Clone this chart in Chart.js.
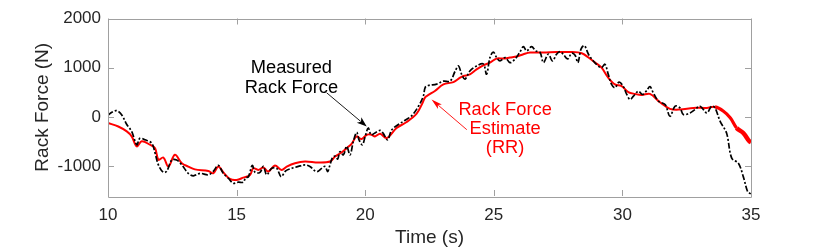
<!DOCTYPE html>
<html>
<head>
<meta charset="utf-8">
<script src="https://cdn.jsdelivr.net/npm/chart.js@4.4.1/dist/chart.umd.min.js"></script>
<style>
  html, body { margin: 0; padding: 0; background: #fff; }
</style>
</head>
<body>
<canvas id="forceChart" width="830" height="249"></canvas>
<script>
// Measured rack force (black dash-dot)
const measuredTime = [
  10.0, 10.15, 10.34, 10.53, 10.73, 10.92, 11.12, 11.24, 11.44, 11.70, 11.83, 11.96,
  12.15, 12.28, 12.48, 12.67, 12.87, 13.12, 13.32, 13.58, 13.90, 14.09, 14.29, 14.48,
  14.68, 14.87, 15.07, 15.26, 15.35, 15.46, 15.61, 15.72, 15.91, 16.04, 16.17, 16.36,
  16.56, 16.73, 16.91, 17.14, 17.40, 17.66, 17.85, 18.11, 18.31, 18.44, 18.54, 18.63,
  18.72, 18.83, 18.93, 19.02, 19.15, 19.28, 19.41, 19.54, 19.67, 19.76, 19.89, 20.0,
  20.12, 20.23, 20.38, 20.58, 20.70, 20.87, 21.03, 21.29, 21.55, 21.81, 22.07, 22.26,
  22.33, 22.45, 22.78, 23.04, 23.30, 23.50, 23.63, 23.75, 23.88, 24.07, 24.33, 24.59,
  24.72, 24.85, 24.98, 25.11, 25.24, 25.44, 25.63, 25.82, 26.02, 26.15, 26.28, 26.47,
  26.63, 26.80, 26.93, 27.12, 27.28, 27.44, 27.57, 27.70, 27.87, 28.03, 28.16, 28.27,
  28.39, 28.52, 28.68, 28.87, 29.06, 29.19, 29.32, 29.45, 29.58, 29.71, 29.87, 30.03,
  30.17, 30.30, 30.43, 30.62, 30.78, 30.95, 31.07, 31.20, 31.40, 31.66, 31.85, 32.05,
  32.24, 32.37, 32.63, 32.82, 33.02, 33.28, 33.47, 33.60, 33.80, 34.05, 34.25, 34.51,
  34.70, 34.87, 34.96, 35.0
];
const measuredForce = [
  40, 100, 130, 50, -150, -290, -560, -430, -460, -530, -730, -970,
  -1120, -1100, -870, -870, -970, -1140, -1190, -1140, -1170, -1100, -980, -1140,
  -1240, -1340, -1320, -1320, -1230, -1210, -980, -1120, -1120, -1000, -1170, -1040,
  -1040, -1210, -1090, -1040, -1000, -970, -1000, -1105, -1040, -1000, -1105, -970,
  -830, -790, -850, -700, -765, -595, -765, -490, -310, -460, -560, -390,
  -220, -360, -320, -270, -330, -460, -260, -150, -65, 30, 220, 425,
  600, 640, 670, 730, 730, 935, 1037, 867, 770, 935, 1037, 1080,
  870, 1208, 1320, 1208, 1139, 1208, 1105, 1173, 1323, 1430, 1343, 1430,
  1343, 1310, 1105, 1276, 1139, 1276, 1330, 1276, 1180, 1296, 1255, 1105,
  1378, 1450, 1276, 1139, 1037, 1003, 1071, 867, 663, 596, 711, 629,
  459, 357, 425, 527, 459, 541, 620, 493, 323, 255, 17, 221,
  187, 51, 85, 153, 221, 85, 221, 187, -85, -323, -833, -935,
  -1207, -1513, -1547, -1560
];

// Rack force estimate RR (red)
const estimateTime = [
  10.0, 10.40, 10.73, 10.92, 11.12, 11.31, 11.63, 11.83, 11.96, 12.15, 12.35, 12.60,
  12.87, 13.12, 13.38, 13.90, 14.09, 14.29, 14.48, 14.74, 15.0, 15.26, 15.52, 15.65,
  15.84, 16.04, 16.23, 16.49, 16.75, 16.95, 17.27, 17.66, 18.18, 18.63, 18.83, 19.08,
  19.28, 19.47, 19.67, 19.86, 20.06, 20.25, 20.38, 20.58, 20.83, 21.22, 21.61, 22.0,
  22.2, 22.33, 22.46, 22.71, 23.04, 23.43, 23.69, 23.82, 24.07, 24.33, 24.59, 24.85,
  25.11, 25.37, 25.63, 25.89, 26.15, 26.41, 26.93, 27.44, 27.96, 28.42, 28.68, 28.94,
  29.19, 29.45, 29.71, 29.97, 30.23, 30.49, 30.75, 31.07, 31.46, 31.85, 32.24, 32.76,
  33.28, 33.60, 33.93, 34.20, 34.44, 34.70, 34.94, 35.0
];
const estimateForce = [
  -120, -190, -290, -390, -595, -490, -560, -630, -867, -820, -1003, -765,
  -935, -1003, -1060, -1091, -1139, -1003, -1119, -1255, -1276, -1228, -1173, -1037,
  -1071, -1024, -1105, -983, -1071, -1003, -935, -901, -922, -901, -799, -718,
  -629, -541, -391, -446, -357, -357, -391, -337, -425, -221, -100, 70,
  255, 400, 450, 530, 663, 711, 799, 833, 867, 969, 1051, 1105,
  1187, 1187, 1208, 1228, 1276, 1310, 1310, 1320, 1320, 1296, 1208, 1105,
  1003, 799, 663, 629, 507, 470, 450, 470, 302, 167, 153, 187,
  187, 207, 119, -17, -221, -323, -493, -510
];

const xTicks = [10, 15, 20, 25, 30, 35];
const yTicks = [-1000, 0, 1000, 2000];

const axisGray = '#a0a0a0';
const textGray = '#262626';
const fontFamily = "'Liberation Sans', Arial, Helvetica, sans-serif";

function toPoints(xs, ys) {
  return xs.map((t, i) => ({ x: t, y: ys[i] }));
}

// box round the axes and MATLAB-style inward tick marks
const boxPlugin = {
  id: 'box',
  afterDatasetsDraw(chart) {
    const { ctx, chartArea: a, scales: { x, y } } = chart;
    const len = 6;
    ctx.save();
    ctx.strokeStyle = axisGray;
    ctx.lineWidth = 1;
    ctx.beginPath();
    ctx.rect(Math.round(a.left) + 0.5, Math.round(a.top) + 0.5,
             Math.round(a.right - a.left), Math.round(a.bottom - a.top));
    xTicks.forEach(v => {
      const px = Math.round(x.getPixelForValue(v)) + 0.5;
      ctx.moveTo(px, a.bottom); ctx.lineTo(px, a.bottom - len);
      ctx.moveTo(px, a.top); ctx.lineTo(px, a.top + len);
    });
    yTicks.forEach(v => {
      const py = Math.round(y.getPixelForValue(v)) + 0.5;
      ctx.moveTo(a.left, py); ctx.lineTo(a.left + len, py);
      ctx.moveTo(a.right, py); ctx.lineTo(a.right - len, py);
    });
    ctx.stroke();
    ctx.restore();
  }
};

function arrow(ctx, x0, y0, x1, y1, color, headLen, headW) {
  const ang = Math.atan2(y1 - y0, x1 - x0);
  ctx.strokeStyle = color;
  ctx.fillStyle = color;
  ctx.lineWidth = 0.9;
  ctx.beginPath();
  ctx.moveTo(x0, y0);
  ctx.lineTo(x1 - Math.cos(ang) * headLen * 0.8, y1 - Math.sin(ang) * headLen * 0.8);
  ctx.stroke();
  ctx.beginPath();
  ctx.moveTo(x1, y1);
  ctx.lineTo(x1 - Math.cos(ang) * headLen + Math.sin(ang) * headW / 2,
             y1 - Math.sin(ang) * headLen - Math.cos(ang) * headW / 2);
  ctx.lineTo(x1 - Math.cos(ang) * headLen * 0.75, y1 - Math.sin(ang) * headLen * 0.75);
  ctx.lineTo(x1 - Math.cos(ang) * headLen - Math.sin(ang) * headW / 2,
             y1 - Math.sin(ang) * headLen + Math.cos(ang) * headW / 2);
  ctx.closePath();
  ctx.fill();
}

// text callouts with arrows, anchored in data units
const calloutPlugin = {
  id: 'callouts',
  afterDraw(chart) {
    const { ctx, scales: { x, y } } = chart;
    ctx.save();
    ctx.font = '18.3px ' + fontFamily;
    ctx.textAlign = 'center';
    ctx.textBaseline = 'alphabetic';

    ctx.fillStyle = '#000';
    ctx.fillText('Measured', x.getPixelForValue(17.13), 73.3);
    ctx.fillText('Rack Force', x.getPixelForValue(17.13), 92.7);
    arrow(ctx, x.getPixelForValue(18.5), y.getPixelForValue(494),
          x.getPixelForValue(20.06), y.getPixelForValue(-190), '#000', 10, 7);

    ctx.fillStyle = '#ff0000';
    ctx.fillText('Rack Force', x.getPixelForValue(25.44), 115);
    ctx.fillText('Estimate', x.getPixelForValue(25.44), 134);
    ctx.fillText('(RR)', x.getPixelForValue(25.44), 153);
    arrow(ctx, x.getPixelForValue(23.95), y.getPixelForValue(-255),
          x.getPixelForValue(22.58), y.getPixelForValue(357), '#ff0000', 11, 6);
    ctx.restore();
  }
};

new Chart(document.getElementById('forceChart'), {
  type: 'line',
  data: {
    datasets: [
      {
        label: 'Measured Rack Force',
        data: toPoints(measuredTime, measuredForce),
        borderColor: '#000',
        borderWidth: 1.7,
        borderDash: [6, 2, 2, 2],
        pointRadius: 0,
        tension: 0.35,
        fill: false
      },
      {
        label: 'Rack Force Estimate (RR)',
        data: toPoints(estimateTime, estimateForce),
        borderColor: '#ff0000',
        borderWidth: 2,
        pointRadius: 0,
        tension: 0.35,
        fill: false,
        segment: {
          // the estimate trace gets heavier near the end
          borderWidth: c => c.p0.parsed.x >= 34.4 ? 4.5 : (c.p0.parsed.x >= 33.6 ? 3.2 : 2)
        }
      }
    ]
  },
  options: {
    responsive: false,
    animation: false,
    events: [],
    layout: { padding: { top: 18.5, right: 79, left: 0, bottom: 0 } },
    plugins: {
      legend: { display: false },
      tooltip: { enabled: false }
    },
    scales: {
      x: {
        type: 'linear',
        min: 10,
        max: 35,
        afterFit: s => { s.height = 53; },
        afterBuildTicks: s => { s.ticks = xTicks.map(v => ({ value: v })); },
        grid: { display: false, drawTicks: false },
        border: { display: false },
        ticks: {
          color: textGray,
          font: { family: fontFamily, size: 17 },
          padding: 9,
          maxRotation: 0,
          autoSkip: false,
          callback: v => String(v)
        },
        title: {
          display: true,
          text: 'Time (s)',
          color: textGray,
          font: { family: fontFamily, size: 19 },
          padding: { top: 0, bottom: 0 }
        }
      },
      y: {
        type: 'linear',
        min: -1600,
        max: 2000,
        afterFit: s => { s.width = 108; },
        afterBuildTicks: s => { s.ticks = yTicks.map(v => ({ value: v })); },
        grid: { display: false, drawTicks: false },
        border: { display: false },
        ticks: {
          color: textGray,
          font: { family: fontFamily, size: 17 },
          padding: 7,
          autoSkip: false,
          callback: v => String(v)
        },
        title: {
          display: true,
          text: 'Rack Force (N)',
          color: textGray,
          font: { family: fontFamily, size: 19 },
          padding: { top: 31, bottom: 0 }
        }
      }
    }
  },
  plugins: [boxPlugin, calloutPlugin]
});
</script>
</body>
</html>
